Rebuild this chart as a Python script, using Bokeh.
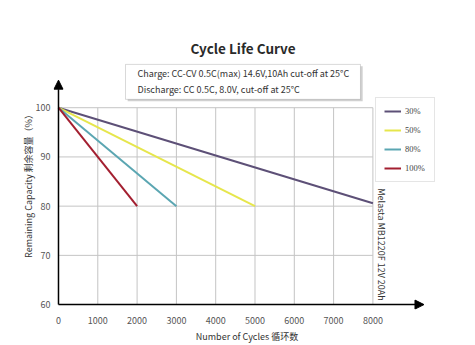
from bokeh.plotting import figure
from bokeh.models import Range1d, Arrow, NormalHead, Label, BoxAnnotation, Legend, LegendItem, FixedTicker
from bokeh.embed import file_html
from bokeh.resources import INLINE
import math

# ---- data ----
x_ticks = [0, 1000, 2000, 3000, 4000, 5000, 6000, 7000, 8000]
y_ticks = [60, 70, 80, 90, 100]
series_names = ["30%", "50%", "80%", "100%"]
cycles_30 = [0, 8000]
cap_30 = [100, 80.6]
cycles_50 = [0, 5000]
cap_50 = [100, 80]
cycles_80 = [0, 3000]
cap_80 = [100, 80]
cycles_100 = [0, 2000]
cap_100 = [100, 80]
colors = ["#5d5077", "#e6e64c", "#5ba6b2", "#a31f30"]

title_text = "Cycle Life Curve"
cond_line1 = "Charge: CC-CV 0.5C(max) 14.6V,10Ah cut-off at 25°C"
cond_line2 = "Discharge: CC 0.5C, 8.0V, cut-off at 25°C"
x_label = "Number of Cycles 循环数"
y_label = "Remaining Capacity 剩余容量（%）"
model_text = "Melasta MB1220F 12V 20Ah"

FONT = "Noto Sans CJK SC"

p = figure(width=475, height=345, output_backend="svg", toolbar_location=None,
           x_range=Range1d(-127, 9720), y_range=Range1d(59, 110),
           min_border_left=53, min_border_right=35, min_border_top=58, min_border_bottom=30)
p.outline_line_color = None
p.background_fill_color = "white"
p.border_fill_color = "white"
p.xgrid.grid_line_color = None
p.ygrid.grid_line_color = None

# title
p.title.text = title_text
p.title.text_font = FONT
p.title.text_font_size = "13.5px"
p.title.text_font_style = "bold"
p.title.text_color = "#2a2a2a"
p.title.align = "left"
p.title.offset = 137
p.title.standoff = 1

for ax, ticks in ((p.xaxis, x_ticks), (p.yaxis, y_ticks)):
    ax.ticker = FixedTicker(ticks=ticks)
    ax.axis_line_color = None
    ax.major_tick_line_color = None
    ax.minor_tick_line_color = None
    ax.major_label_text_font = FONT
    ax.major_label_text_font_size = "9px"
    ax.major_label_text_color = "#555555"
    ax.axis_label_text_font = FONT
    ax.axis_label_text_font_size = "9px"
    ax.axis_label_text_font_style = "normal"
    ax.axis_label_text_color = "#333333"
p.xaxis.major_label_standoff = 1
p.yaxis.major_label_standoff = -3
p.xaxis.axis_label = x_label
p.yaxis.axis_label = y_label
p.xaxis.axis_label_standoff = 3
p.yaxis.axis_label_standoff = -2

# grid lines limited to the data area
gx = x_ticks[1:]
p.segment(x0=gx, y0=[y_ticks[0]] * len(gx), x1=gx, y1=[y_ticks[-1]] * len(gx),
          line_color="#c4c4c4", line_width=1)
gy = y_ticks[1:]
p.segment(x0=[x_ticks[0]] * len(gy), y0=gy, x1=[x_ticks[-1]] * len(gy), y1=gy,
          line_color="#c4c4c4", line_width=1)

# series
renderers = []
for xs, ys, c in ((cycles_30, cap_30, colors[0]), (cycles_50, cap_50, colors[1]),
                  (cycles_80, cap_80, colors[2]), (cycles_100, cap_100, colors[3])):
    r = p.line(xs, ys, line_color=c, line_width=2)
    renderers.append(r)

# axes with arrows
p.add_layout(Arrow(end=NormalHead(size=9, fill_color="black", line_color="black"),
                   x_start=0, y_start=60, x_end=9300, y_end=60, line_width=1.5, line_color="black"))
p.add_layout(Arrow(end=NormalHead(size=9, fill_color="black", line_color="black"),
                   x_start=0, y_start=60, x_end=0, y_end=105.6, line_width=1.5, line_color="black"))

# legend
legend = Legend(items=[LegendItem(label=n, renderers=[r]) for n, r in zip(series_names, renderers)],
                location=(322, 127), orientation="vertical")
legend.label_text_font = "Liberation Serif"
legend.label_text_font_size = "8.5px"
legend.label_text_color = "#444444"
legend.glyph_width = 17
legend.glyph_height = 10
legend.label_height = 10
legend.label_width = 21
legend.label_standoff = 4
legend.spacing = 9
legend.padding = 8
legend.margin = 0
legend.border_line_color = "#cccccc"
legend.border_line_width = 1
legend.background_fill_alpha = 1
p.add_layout(legend, "center")

# condition box
p.add_layout(BoxAnnotation(left=1760, right=7740, top=108.4, bottom=101.3,
                           fill_color="#b0b0b0", fill_alpha=0.6, line_color=None, level="underlay"))
p.add_layout(BoxAnnotation(left=1705, right=7684, top=108.8, bottom=101.7,
                           fill_color="white", fill_alpha=1, line_color="#808080", line_width=1,
                           level="underlay"))
p.add_layout(Label(x=2010, y=107.0, text=cond_line1, text_font=FONT, text_font_size="9px",
                   text_color="#333333", text_baseline="middle", text_align="left"))
p.add_layout(Label(x=2010, y=103.7, text=cond_line2, text_font=FONT, text_font_size="9px",
                   text_color="#333333", text_baseline="middle", text_align="left"))

# model text
p.add_layout(Label(x=8207, y=72.2, text=model_text, text_font=FONT, text_font_size="9px",
                   text_color="#333333", text_baseline="middle", text_align="center", angle=-math.pi / 2))

open("out.html", "w").write(file_html(p, INLINE))
